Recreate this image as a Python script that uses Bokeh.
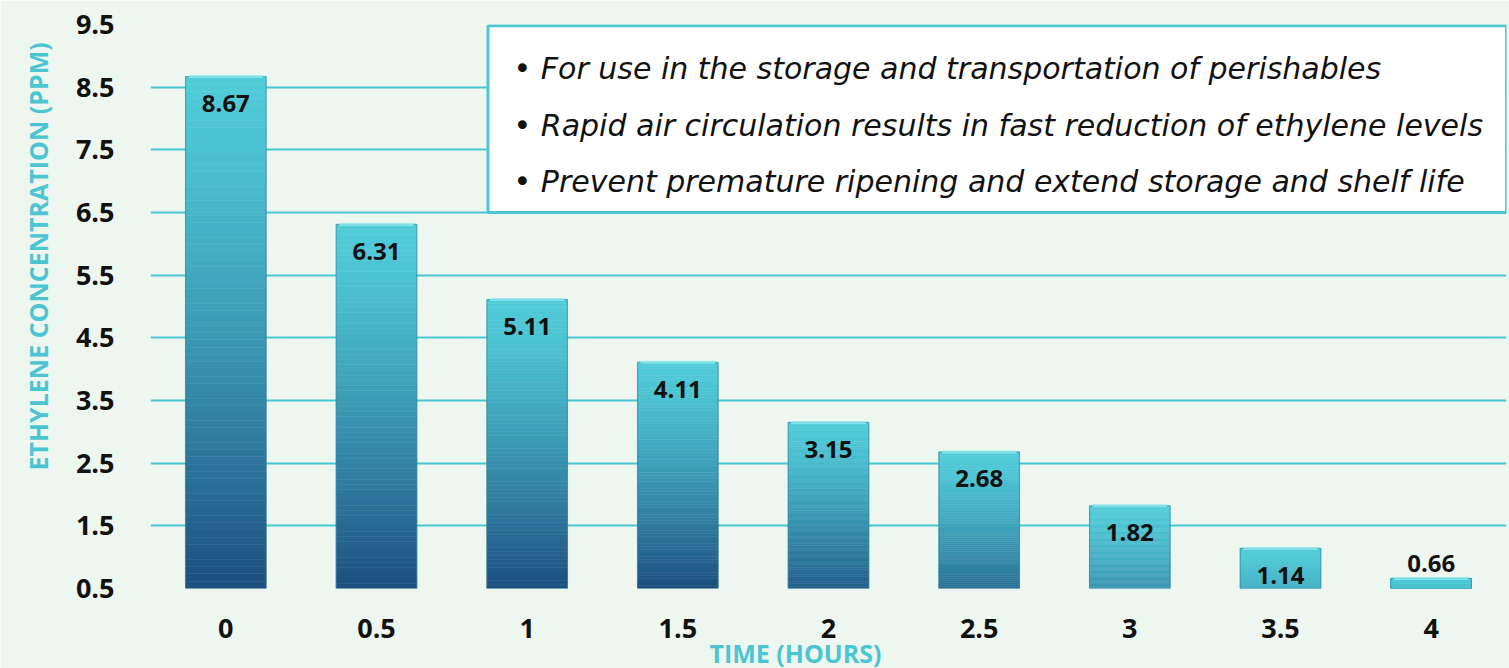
from bokeh.plotting import figure
from bokeh.models import FactorRange, Range1d, FixedTicker, Label, BoxAnnotation, Title
from bokeh.core.properties import value
from bokeh.embed import file_html
from bokeh.resources import INLINE

# ---- data ----
hours = ["0", "0.5", "1", "1.5", "2", "2.5", "3", "3.5", "4"]
ppm = [8.67, 6.31, 5.11, 4.11, 3.15, 2.68, 1.82, 1.14, 0.66]
y_ticks = [0.5, 1.5, 2.5, 3.5, 4.5, 5.5, 6.5, 7.5, 8.5, 9.5]
notes = [
    "\u2022 For use in the storage and transportation of perishables",
    "\u2022 Rapid air circulation results in fast reduction of ethylene levels",
    "\u2022 Prevent premature ripening and extend storage and shelf life",
]
x_title = "TIME (HOURS)"
y_title = "ETHYLENE CONCENTRATION (PPM)"

# ---- style ----
BG = "#EEF7EF"
TEAL = "#4CC5D3"
TOP_C = (0x50, 0xCC, 0xD9)
BOT_C = (0x1D, 0x4E, 0x7E)
BASE = 0.5
W, H = 1509, 668
ML, MR, MT, MB = 147, 3, 24, 80
px_per_unit = (H - MT - MB) / (y_ticks[-1] - y_ticks[0])

p = figure(width=W, height=H, x_range=FactorRange(*hours, range_padding=0),
           y_range=Range1d(y_ticks[0], y_ticks[-1]),
           output_backend="svg", toolbar_location=None,
           min_border_left=ML, min_border_right=MR, min_border_top=MT, min_border_bottom=MB)
p.background_fill_color = BG
p.border_fill_color = BG
p.outline_line_color = None

# axes
p.yaxis.ticker = FixedTicker(ticks=y_ticks)
p.ygrid.ticker = FixedTicker(ticks=y_ticks[1:])
p.ygrid.grid_line_color = TEAL
p.ygrid.grid_line_width = 2
p.xgrid.grid_line_color = None
for ax in (p.xaxis[0], p.yaxis[0]):
    ax.axis_line_color = None
    ax.major_tick_line_color = None
    ax.minor_tick_line_color = None
    ax.major_label_text_font = "Open Sans"
    ax.major_label_text_font_style = "bold"
    ax.major_label_text_font_size = "27px"
    ax.major_label_text_color = "#111111"
p.yaxis.major_label_standoff = 30
p.xaxis.major_label_standoff = 24

# gradient bars as stacked slices
BW = 0.535
N = 70
xs, bots, tops, cols = [], [], [], []
for cat, v in zip(hours, ppm):
    s = min(1.0, (v - BASE) / 3.0)
    for k in range(N):
        b = BASE + (v - BASE) * k / N
        t = BASE + (v - BASE) * (k + 1) / N
        frac = 1 - (k + 0.5) / N  # 1 at bottom, 0 at top
        d = (frac ** 1.3) * s
        c = tuple(int(round(TOP_C[j] + (BOT_C[j] - TOP_C[j]) * d)) for j in range(3))
        xs.append(cat); bots.append(b); tops.append(t)
        cols.append("#%02x%02x%02x" % c)
p.vbar(x=xs, bottom=bots, top=tops, width=BW, fill_color=cols, line_color=cols, line_width=0.5)
# outline and top highlight
p.vbar(x=hours, bottom=BASE, top=ppm, width=BW, fill_color=None, line_color="#2B7F95",
       line_alpha=0.55, line_width=1.2)
p.segment(x0=[(h, -BW / 2 + 0.02) for h in hours], x1=[(h, BW / 2 - 0.02) for h in hours],
          y0=ppm, y1=ppm, line_color="#8EE9F0", line_width=3, line_alpha=0.8)

# value labels: inside top of bar, above when bar is too short
offs = [27 if (v - BASE) * px_per_unit > 30 else -15 for v in ppm]
p.text(x=hours, y=ppm, text=["%.2f" % v for v in ppm], y_offset=offs,
       text_font=value("Open Sans"), text_font_style="bold", text_font_size="24px",
       text_color="#111111", text_align="center", text_baseline="middle")

# note box
p.add_layout(BoxAnnotation(left=2.24, right=9.0, top=9.48, bottom=6.5,
                           fill_color="white", fill_alpha=1.0,
                           line_color=TEAL, line_width=3, line_alpha=1.0))
for i, line in enumerate(notes):
    p.add_layout(Label(x=2.41, y=8.80 - i * 0.905, text=line,
                       text_font="DejaVu Sans", text_font_style="italic", text_font_size="30px",
                       text_color="#111111", text_baseline="middle", text_align="left"))

# axis titles
p.add_layout(Title(text=x_title, align="left", offset=559, standoff=-14,
                   text_font="Open Sans", text_font_style="bold", text_font_size="25px",
                   text_color=TEAL), "below")
p.add_layout(Title(text=y_title, align="left", offset=118, standoff=36,
                   text_font="Open Sans", text_font_style="bold", text_font_size="25px",
                   text_color=TEAL), "left")

open("out.html", "w").write(file_html(p, INLINE))
